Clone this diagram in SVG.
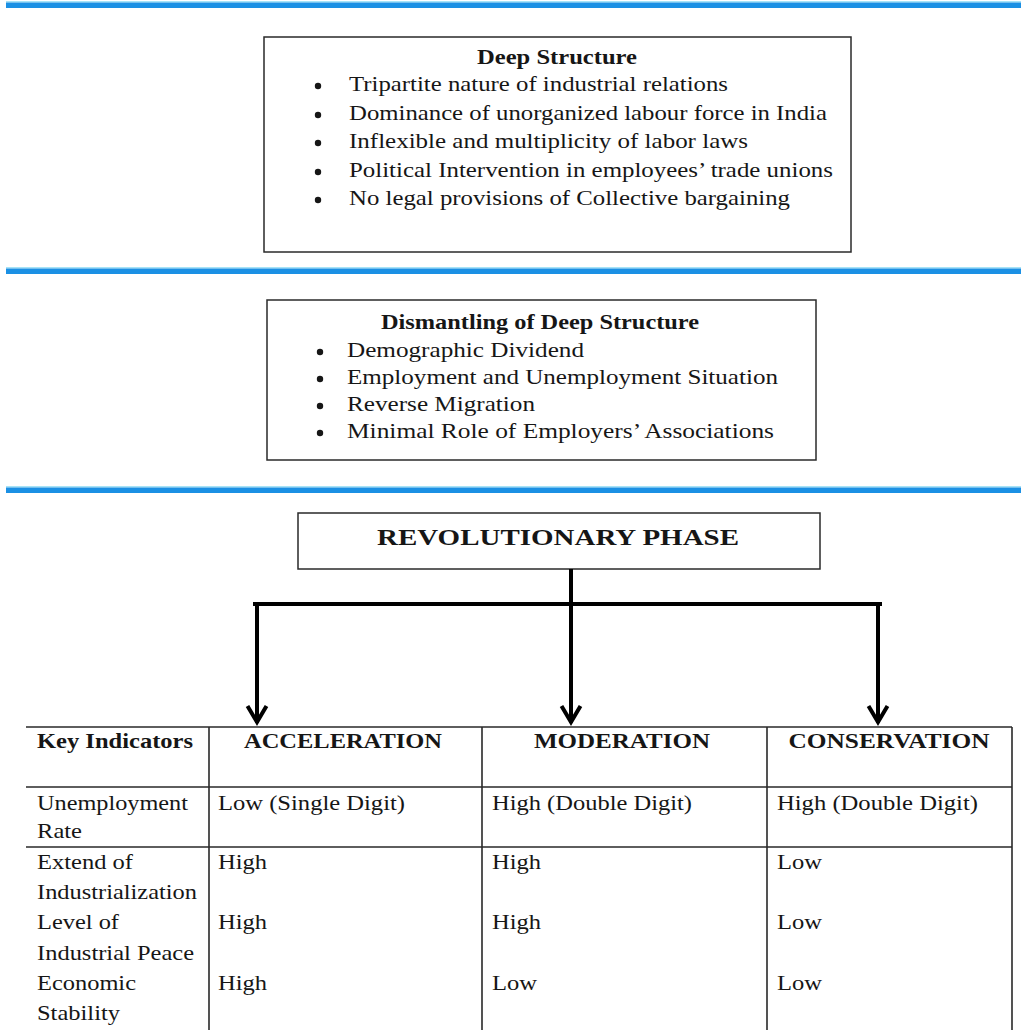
<svg xmlns="http://www.w3.org/2000/svg" width="1021" height="1030" viewBox="0 0 1021 1030">
<style>
text{font-family:"Liberation Serif","Times New Roman",serif;fill:#161616;font-size:21px}
.b{font-weight:bold}
.box{fill:#fff;stroke:#2a2a2a;stroke-width:1.5}
.blue{fill:#1b90e4}
.fringe{fill:#a6e3f7}
.tl{stroke:#2a2a2a;stroke-width:1.6;fill:none}
.con{stroke:#000;stroke-width:4;fill:none}
</style>
<defs>
<marker id="arr" markerUnits="userSpaceOnUse" markerWidth="30" markerHeight="30" viewBox="0 0 30 30" refX="22" refY="15" orient="auto">
<path d="M5,5.5 L21,15 L5,24.5" fill="none" stroke="#000" stroke-width="4" stroke-linejoin="miter"/>
</marker>
</defs>
<rect x="0" y="0" width="1021" height="1030" fill="#fff"/>

<g id="dividers">
<rect class="fringe" x="6" y="1" width="1015" height="1.5"/>
<rect class="blue" x="6" y="2.5" width="1015" height="5.5"/>
<rect class="fringe" x="6" y="267" width="1015" height="1.5"/>
<rect class="blue" x="6" y="268.5" width="1015" height="5.5"/>
<rect class="fringe" x="6" y="486" width="1015" height="1.5"/>
<rect class="blue" x="6" y="487.5" width="1015" height="5.5"/>
</g>

<g id="deep-structure">
<rect class="box" x="264" y="37" width="587" height="215"/>
<text class="b" x="557" y="64" text-anchor="middle" textLength="160" lengthAdjust="spacingAndGlyphs">Deep Structure</text>
<g fill="#161616">
<circle cx="318" cy="86" r="3.2"/>
<circle cx="318" cy="115" r="3.2"/>
<circle cx="318" cy="143" r="3.2"/>
<circle cx="318" cy="172" r="3.2"/>
<circle cx="318" cy="200" r="3.2"/>
</g>
<text x="349" y="91" textLength="379" lengthAdjust="spacingAndGlyphs">Tripartite nature of industrial relations</text>
<text x="349" y="120" textLength="478" lengthAdjust="spacingAndGlyphs">Dominance of unorganized labour force in India</text>
<text x="349" y="148" textLength="399" lengthAdjust="spacingAndGlyphs">Inflexible and multiplicity of labor laws</text>
<text x="349" y="177" textLength="484" lengthAdjust="spacingAndGlyphs">Political Intervention in employees’ trade unions</text>
<text x="349" y="205" textLength="441" lengthAdjust="spacingAndGlyphs">No legal provisions of Collective bargaining</text>
</g>

<g id="dismantling">
<rect class="box" x="267" y="300" width="549" height="160"/>
<text class="b" x="540" y="329" text-anchor="middle" textLength="318" lengthAdjust="spacingAndGlyphs">Dismantling of Deep Structure</text>
<g fill="#161616">
<circle cx="320" cy="352" r="3.2"/>
<circle cx="320" cy="379" r="3.2"/>
<circle cx="320" cy="406" r="3.2"/>
<circle cx="320" cy="433" r="3.2"/>
</g>
<text x="347" y="357" textLength="237" lengthAdjust="spacingAndGlyphs">Demographic Dividend</text>
<text x="347" y="384" textLength="431" lengthAdjust="spacingAndGlyphs">Employment and Unemployment Situation</text>
<text x="347" y="411" textLength="188" lengthAdjust="spacingAndGlyphs">Reverse Migration</text>
<text x="347" y="438" textLength="427" lengthAdjust="spacingAndGlyphs">Minimal Role of Employers’ Associations</text>
</g>

<g id="revolutionary-phase">
<rect class="box" x="298" y="513" width="522" height="56"/>
<text class="b" x="558" y="545" text-anchor="middle" style="font-size:24px" textLength="362" lengthAdjust="spacingAndGlyphs">REVOLUTIONARY PHASE</text>
</g>

<g id="connectors">
<path class="con" d="M255,604 H880" stroke-linecap="square"/>
<path class="con" d="M571,569 V723" marker-end="url(#arr)"/>
<path class="con" d="M257,604 V723" marker-end="url(#arr)"/>
<path class="con" d="M878,604 V723" marker-end="url(#arr)"/>
</g>

<g id="table">
<path class="tl" d="M26,727 H1012 M26,787 H1012 M26,847 H1012 M209,727 V1030 M482,727 V1030 M767,727 V1030 M1012,727 V1030"/>
<g id="header-row">
<text class="b" x="37" y="748" textLength="156" lengthAdjust="spacingAndGlyphs">Key Indicators</text>
<text class="b" x="343" y="748" text-anchor="middle" textLength="198" lengthAdjust="spacingAndGlyphs">ACCELERATION</text>
<text class="b" x="622" y="748" text-anchor="middle" textLength="176" lengthAdjust="spacingAndGlyphs">MODERATION</text>
<text class="b" x="889" y="748" text-anchor="middle" textLength="201" lengthAdjust="spacingAndGlyphs">CONSERVATION</text>
</g>
<g id="row-unemployment">
<text x="37" y="810" textLength="151" lengthAdjust="spacingAndGlyphs">Unemployment</text>
<text x="37" y="838" textLength="45" lengthAdjust="spacingAndGlyphs">Rate</text>
<text x="218" y="810" textLength="187" lengthAdjust="spacingAndGlyphs">Low (Single Digit)</text>
<text x="492" y="810" textLength="200" lengthAdjust="spacingAndGlyphs">High (Double Digit)</text>
<text x="777" y="810" textLength="201" lengthAdjust="spacingAndGlyphs">High (Double Digit)</text>
</g>
<g id="row-industrialization">
<text x="37" y="869" textLength="96" lengthAdjust="spacingAndGlyphs">Extend of</text>
<text x="37" y="899" textLength="160" lengthAdjust="spacingAndGlyphs">Industrialization</text>
<text x="218" y="869" textLength="49" lengthAdjust="spacingAndGlyphs">High</text>
<text x="492" y="869" textLength="49" lengthAdjust="spacingAndGlyphs">High</text>
<text x="777" y="869" textLength="45" lengthAdjust="spacingAndGlyphs">Low</text>
</g>
<g id="row-peace">
<text x="37" y="929" textLength="82" lengthAdjust="spacingAndGlyphs">Level of</text>
<text x="37" y="960" textLength="157" lengthAdjust="spacingAndGlyphs">Industrial Peace</text>
<text x="218" y="929" textLength="49" lengthAdjust="spacingAndGlyphs">High</text>
<text x="492" y="929" textLength="49" lengthAdjust="spacingAndGlyphs">High</text>
<text x="777" y="929" textLength="45" lengthAdjust="spacingAndGlyphs">Low</text>
</g>
<g id="row-stability">
<text x="37" y="990" textLength="99" lengthAdjust="spacingAndGlyphs">Economic</text>
<text x="37" y="1020" textLength="83" lengthAdjust="spacingAndGlyphs">Stability</text>
<text x="218" y="990" textLength="49" lengthAdjust="spacingAndGlyphs">High</text>
<text x="492" y="990" textLength="45" lengthAdjust="spacingAndGlyphs">Low</text>
<text x="777" y="990" textLength="45" lengthAdjust="spacingAndGlyphs">Low</text>
</g>
</g>
</svg>
